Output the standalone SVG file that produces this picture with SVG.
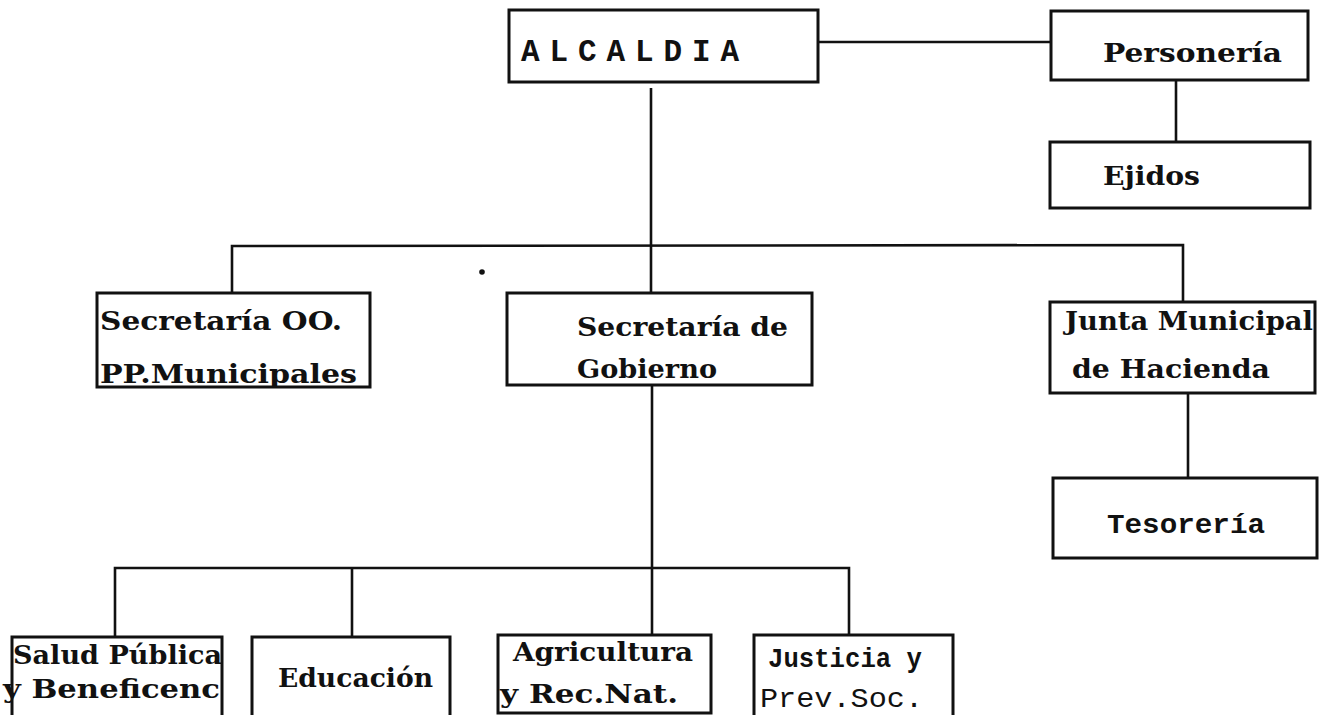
<svg xmlns="http://www.w3.org/2000/svg" width="1326" height="715" viewBox="0 0 1326 715">
<style>
.box{fill:#fff;stroke:#111;stroke-width:3}
.ln{fill:none;stroke:#111;stroke-width:2.6}
.t{font-family:"DejaVu Serif","Liberation Serif",serif;font-weight:bold;font-size:26px;fill:#111}
.m{font-family:"Liberation Mono","DejaVu Sans Mono",monospace;font-weight:bold;font-size:28px;fill:#111}
.mn{font-family:"Liberation Mono","DejaVu Sans Mono",monospace;font-size:28px;fill:#111}
.big{font-size:31px}
</style>
<rect width="1326" height="715" fill="#fff"/>
<g id="connectors">
<line class="ln" x1="818" y1="42" x2="1051" y2="42"/>
<line class="ln" x1="1176" y1="80" x2="1176" y2="142"/>
<line class="ln" x1="651" y1="88" x2="651" y2="293"/>
<polyline class="ln" points="232,293 232,246 1183,245 1183,302"/>
<line class="ln" x1="1188" y1="393" x2="1188" y2="478"/>
<line class="ln" x1="652" y1="385" x2="652" y2="635"/>
<polyline class="ln" points="115,637 115,568 849,568 849,635"/>
<line class="ln" x1="352" y1="568" x2="352" y2="637"/>
</g>
<g id="alcaldia"><rect class="box" x="509" y="10" width="309" height="72"/><text class="m big" x="521" y="61" textLength="218" lengthAdjust="spacing">ALCALDIA</text></g>
<g id="personeria"><rect class="box" x="1051" y="11" width="257" height="69"/><text class="t" x="1103" y="62" textLength="179" lengthAdjust="spacingAndGlyphs">Personería</text></g>
<g id="ejidos"><rect class="box" x="1050" y="142" width="260" height="66"/><text class="t" x="1103" y="185" textLength="97" lengthAdjust="spacingAndGlyphs">Ejidos</text></g>
<g id="secretaria-oopp"><rect class="box" x="97" y="293" width="273" height="94"/><text class="t" x="100" y="330" textLength="242" lengthAdjust="spacingAndGlyphs">Secretaría OO.</text><text class="t" x="100" y="383" textLength="257" lengthAdjust="spacingAndGlyphs">PP.Municipales</text></g>
<g id="secretaria-gobierno"><rect class="box" x="507" y="293" width="305" height="92"/><text class="t" x="577" y="336" textLength="211" lengthAdjust="spacingAndGlyphs">Secretaría de</text><text class="t" x="577" y="378" textLength="140" lengthAdjust="spacingAndGlyphs">Gobierno</text></g>
<g id="junta"><rect class="box" x="1050" y="302" width="265" height="91"/><text class="t" x="1065" y="330" textLength="248" lengthAdjust="spacingAndGlyphs">Junta Municipal</text><text class="t" x="1072" y="378" textLength="198" lengthAdjust="spacingAndGlyphs">de Hacienda</text></g>
<g id="tesoreria"><rect class="box" x="1053" y="478" width="264" height="80"/><text class="m" x="1107" y="533" textLength="158" lengthAdjust="spacingAndGlyphs">Tesorería</text></g>
<g id="salud"><rect class="box" x="12" y="637" width="210" height="90"/><text class="t" x="13" y="664" textLength="209" lengthAdjust="spacingAndGlyphs">Salud Pública</text><text class="t" x="3" y="698" textLength="217" lengthAdjust="spacingAndGlyphs">y Beneficenc</text></g>
<g id="educacion"><rect class="box" x="252" y="637" width="198" height="90"/><text class="t" x="278" y="687" textLength="155" lengthAdjust="spacingAndGlyphs">Educación</text></g>
<g id="agricultura"><rect class="box" x="498" y="635" width="213" height="78"/><text class="t" x="513" y="661" textLength="180" lengthAdjust="spacingAndGlyphs">Agricultura</text><text class="t" x="500" y="703" textLength="178" lengthAdjust="spacingAndGlyphs">y Rec.Nat.</text></g>
<g id="justicia"><rect class="box" x="754" y="635" width="199" height="90"/><text class="m" x="768" y="667" textLength="154" lengthAdjust="spacingAndGlyphs">Justicia y</text><text class="mn" x="760" y="707" textLength="163" lengthAdjust="spacingAndGlyphs">Prev.Soc.</text></g>
<circle cx="482" cy="272" r="2.8" fill="#111"/>
</svg>
